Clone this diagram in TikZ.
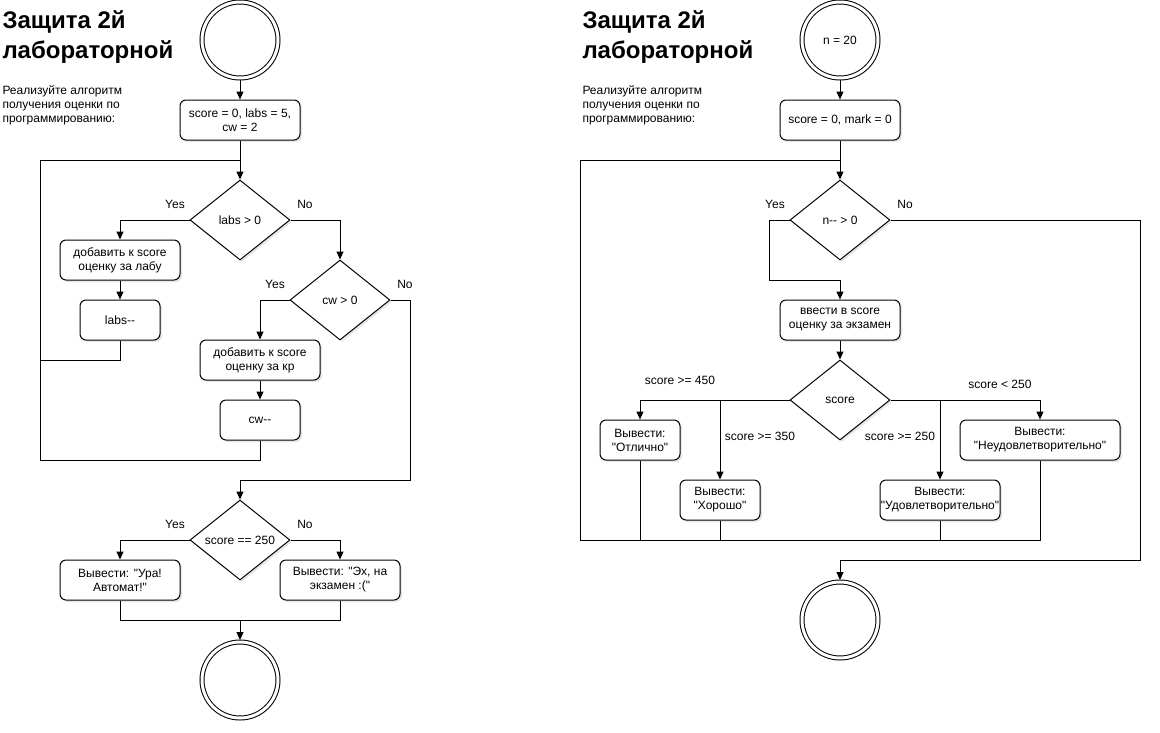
\documentclass[tikz,border=0pt]{standalone}
\usepackage{fontspec}
\setmainfont{Liberation Sans}[Ligatures=TeXOff]
\usetikzlibrary{positioning,shapes.geometric,arrows.meta,shadows}
\tikzset{
  every node/.style={
    font=\fontsize{12}{14}\selectfont,
    align=center
  },
  shade/.style={drop shadow={opacity=0.18, shadow xshift=2pt, shadow yshift=-2pt}},
  blk/.style={draw, fill=white, rounded corners=6pt, minimum height=40pt, inner sep=0pt, shade},
  cond/.style={draw, diamond, fill=white, minimum width=100pt, minimum height=80pt, inner sep=0pt, shade},
  term/.style={draw, circle, fill=white, double, double distance=3pt, minimum size=76pt, inner sep=0pt, outer sep=2pt, shade},
  arr/.style={-{Triangle[length=8pt,width=7pt]}},
  heading/.style={font=\fontsize{24}{30}\selectfont\bfseries, align=left, anchor=north west, inner sep=0pt},
  task/.style={align=left, anchor=north west, inner sep=0pt}
}

\begin{document}
\begin{tikzpicture}[x=1pt, y=-1pt, line width=1pt]
          \useasboundingbox (0,0) rectangle (1160,732);
          \node[heading] (TitleL) at (2,10) {Защита 2й\\лабораторной};
          \node[task] (TaskL) at (2,85) {Реализуйте алгоритм\\получения оценки по\\программированию:};
          \node[term] (StartL) at (240,40) {};
          \node[blk, minimum width=120pt, on grid, below=80pt of StartL] (InitL) {score = 0, labs = 5,\\cw = 2};
          \node[cond, on grid, below=100pt of InitL] (LabsQ) {labs > 0};
          \node[blk, minimum width=120pt, on grid, below left=40pt and 120pt of LabsQ] (AddLab) {добавить к score\\оценку за лабу};
          \node[blk, minimum width=80pt, on grid, below=60pt of AddLab] (LabsDec) {labs-{}-};
          \node[cond, on grid, below right=80pt and 100pt of LabsQ] (CwQ) {cw > 0};
          \node[blk, minimum width=120pt, on grid, below left=60pt and 80pt of CwQ] (AddCw) {добавить к score\\оценку за кр};
          \node[blk, minimum width=80pt, on grid, below=60pt of AddCw] (CwDec) {cw-{}-};
          \node[cond, on grid, below=320pt of LabsQ] (ScoreQ) {score == 250};
          \node[blk, minimum width=120pt, on grid, below left=40pt and 120pt of ScoreQ] (Ura) {Вывести: "Ура!\\Автомат!"};
          \node[blk, minimum width=120pt, on grid, below right=40pt and 100pt of ScoreQ] (Ekz) {Вывести: "Эх, на\\экзамен :("};
          \node[term, on grid, below=140pt of ScoreQ] (EndL) {};
          \node[on grid, above left=16pt and 65pt of LabsQ] (YesA) {Yes};
          \node[on grid, above right=16pt and 65pt of LabsQ] (NoA) {No};
          \node[on grid, above left=16pt and 65pt of CwQ] (YesB) {Yes};
          \node[on grid, above right=16pt and 65pt of CwQ] (NoB) {No};
          \node[on grid, above left=16pt and 65pt of ScoreQ] (YesC) {Yes};
          \node[on grid, above right=16pt and 65pt of ScoreQ] (NoC) {No};
          \coordinate (loopL) at (40,160);
          \coordinate (joinL) at (240,160);
          \coordinate (mergeL) at (240,480);
          \coordinate (mergeE) at (240,620);
          \draw[arr] (StartL) -- (InitL);
          \draw[arr] (InitL) -- (LabsQ);
          \draw[arr] (LabsQ.west) -| (AddLab);
          \draw[arr] (AddLab) -- (LabsDec);
          \draw (LabsDec.south) -- ++(0,20) -| (loopL) -- (joinL);
          \draw[arr] (LabsQ.east) -| (CwQ);
          \draw[arr] (CwQ.west) -| (AddCw);
          \draw[arr] (AddCw) -- (CwDec);
          \draw (CwDec.south) -- ++(0,20) -| (loopL);
          \draw[arr] (CwQ.east) -- ++(20,0) |- (mergeL) -- (ScoreQ);
          \draw[arr] (ScoreQ.west) -| (Ura);
          \draw[arr] (ScoreQ.east) -| (Ekz);
          \draw (Ura.south) |- (mergeE);
          \draw (Ekz.south) |- (mergeE);
          \draw[arr] (mergeE) -- (EndL);
          \node[heading] (TitleR) at (582,10) {Защита 2й\\лабораторной};
          \node[task] (TaskR) at (582,85) {Реализуйте алгоритм\\получения оценки по\\программированию:};
          \node[term] (StartR) at (840,40) {n = 20};
          \node[blk, minimum width=120pt, on grid, below=80pt of StartR] (InitR) {score = 0, mark = 0};
          \node[cond, on grid, below=100pt of InitR] (NQ) {n-{}- > 0};
          \node[blk, minimum width=120pt, on grid, below=100pt of NQ] (Vvod) {ввести в score\\оценку за экзамен};
          \node[cond, on grid, below=80pt of Vvod] (ScoreR) {score};
          \node[blk, minimum width=80pt, on grid, below left=40pt and 200pt of ScoreR] (Otl) {Вывести:\\"Отлично"};
          \node[blk, minimum width=80pt, on grid, below left=100pt and 120pt of ScoreR] (Hor) {Вывести:\\"Хорошо"};
          \node[blk, minimum width=120pt, on grid, below right=100pt and 100pt of ScoreR] (Udov) {Вывести:\\"Удовлетворительно"};
          \node[blk, minimum width=160pt, on grid, below right=40pt and 200pt of ScoreR] (Neud) {Вывести:\\"Неудовлетворительно"};
          \node[term, on grid, below=220pt of ScoreR] (EndR) {};
          \node[on grid, above left=16pt and 65pt of NQ] (YesD) {Yes};
          \node[on grid, above right=16pt and 65pt of NQ] (NoD) {No};
          \node[on grid, above left=20pt and 160pt of ScoreR] (Gr450) {score >= 450};
          \node[on grid, below left=36pt and 80pt of ScoreR] (Gr350) {score >= 350};
          \node[on grid, below right=36pt and 60pt of ScoreR] (Gr250) {score >= 250};
          \node[on grid, above right=16pt and 160pt of ScoreR] (Ls250) {score < 250};
          \coordinate (loopR) at (580,160);
          \coordinate (joinR) at (840,160);
          \coordinate (yesR) at (840,280);
          \coordinate (botR) at (580,540);
          \coordinate (exitR) at (1140,560);
          \draw[arr] (StartR) -- (InitR);
          \draw[arr] (InitR) -- (NQ);
          \draw[arr] (NQ.west) -- ++(-20,0) |- (yesR) -- (Vvod);
          \draw[arr] (NQ.east) -| (exitR) -| (EndR);
          \draw[arr] (Vvod) -- (ScoreR);
          \draw[arr] (ScoreR.west) -| (Otl);
          \draw[arr] (ScoreR.west) -| (Hor);
          \draw[arr] (ScoreR.east) -| (Udov);
          \draw[arr] (ScoreR.east) -| (Neud);
          \draw (Neud.south) |- (botR) -- (loopR) -- (joinR);
          \draw (Otl.south) -- (Otl.south |- botR);
          \draw (Hor.south) -- (Hor.south |- botR);
          \draw (Udov.south) -- (Udov.south |- botR);
        \end{tikzpicture}
\end{document}
